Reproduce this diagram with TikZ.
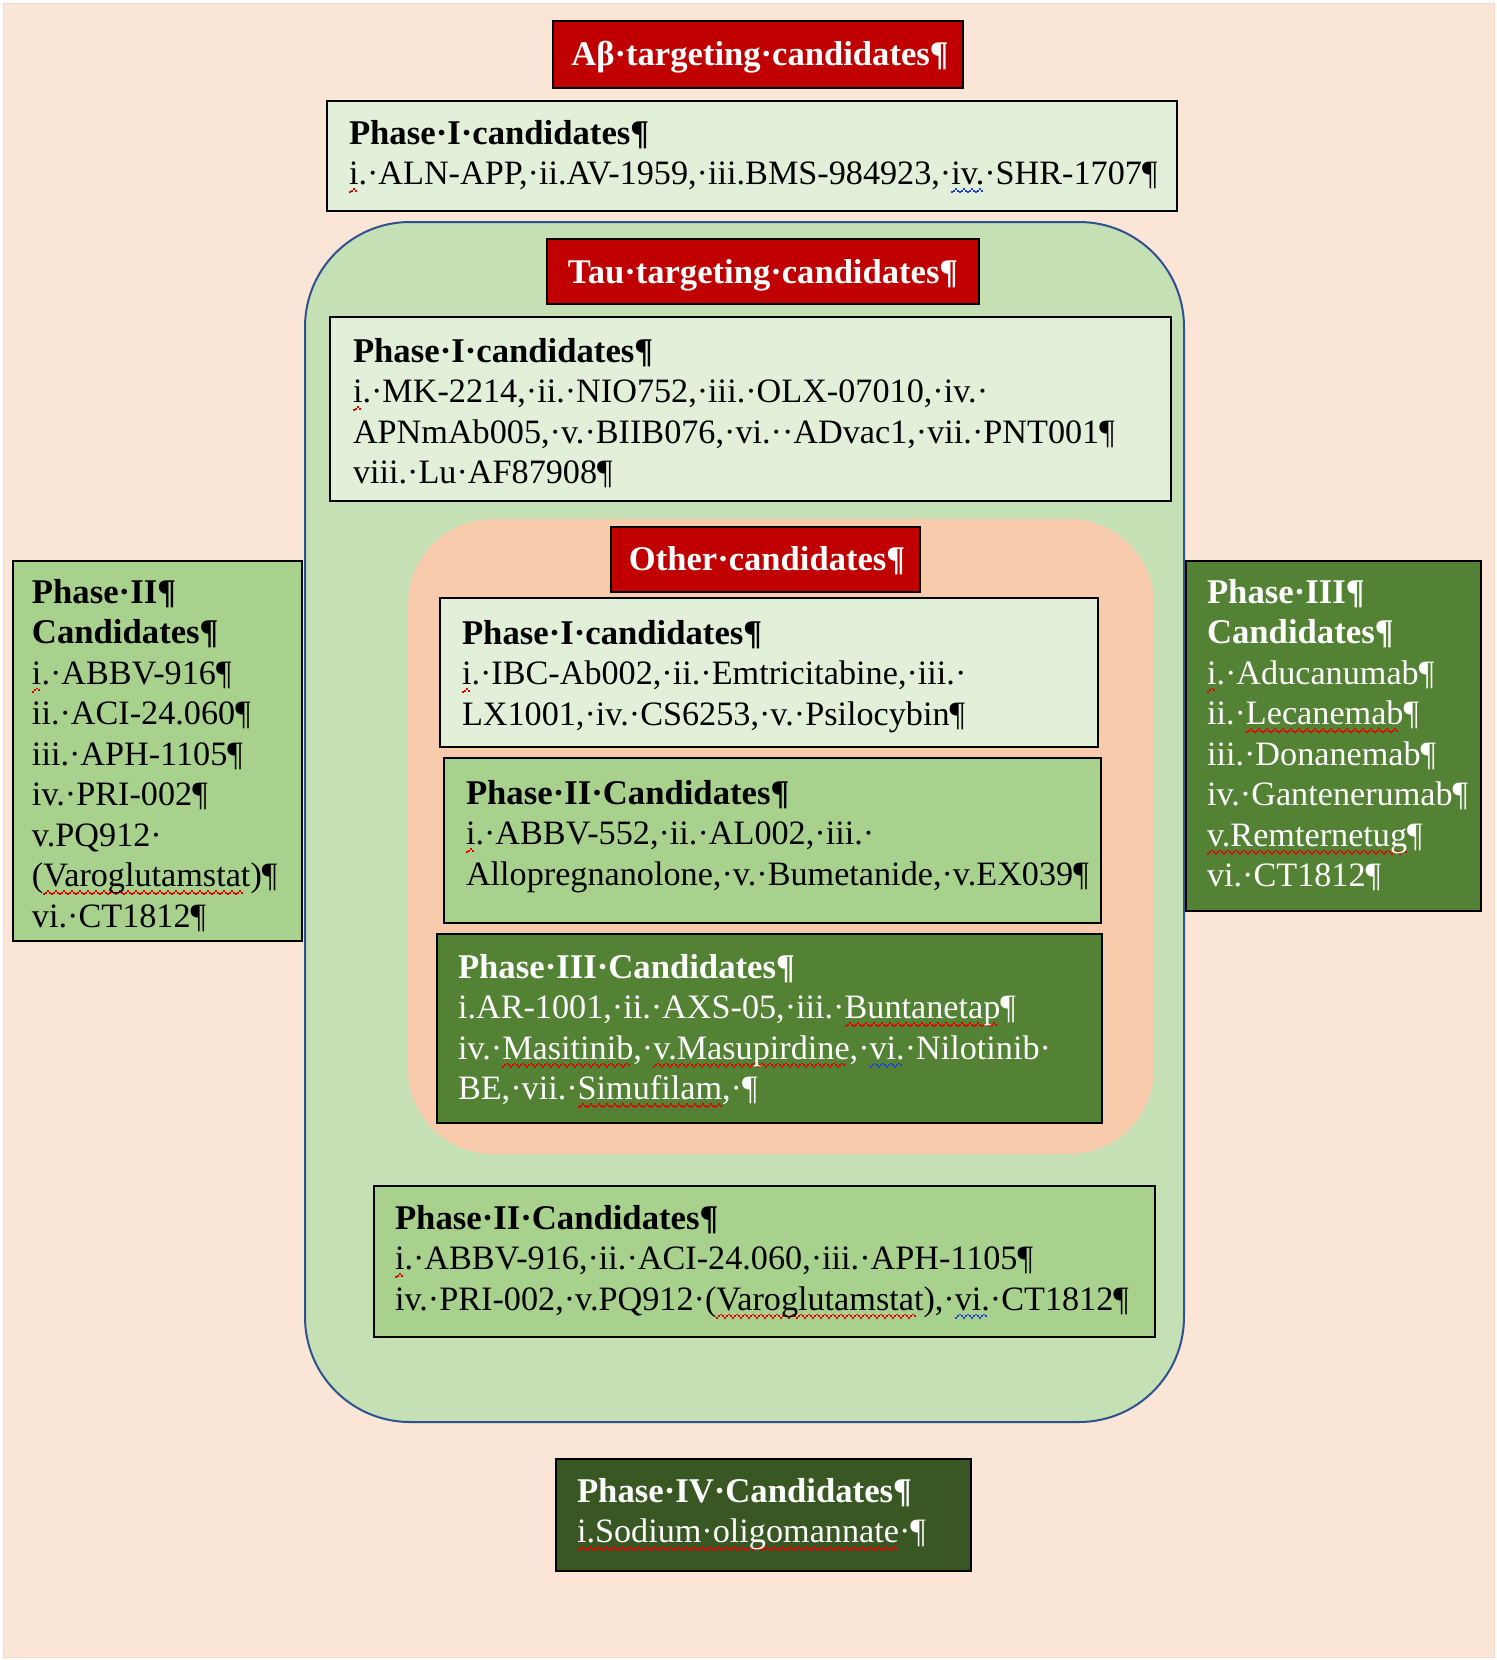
\documentclass[tikz,border=0pt]{standalone}
\usepackage{fontspec}
\setmainfont{Liberation Serif}
\definecolor{bgpeach}{HTML}{FBE5D6}
\definecolor{titlered}{HTML}{C00000}
\definecolor{palegreen}{HTML}{E2EFD9}
\definecolor{taugreen}{HTML}{C5E0B4}
\definecolor{innerpeach}{HTML}{F8CBAD}
\definecolor{midgreen}{HTML}{A9D18E}
\definecolor{darkgreen}{HTML}{548235}
\definecolor{darkestgreen}{HTML}{385723}
\definecolor{navy}{HTML}{2F528F}
\definecolor{sqred}{HTML}{E80000}
\definecolor{sqblue}{HTML}{1F3FE0}
\definecolor{edgegray}{HTML}{F3D9C8}
\newcommand\wavebox[1]{\hbox{\textcolor{#1}{\rule[-4.3pt]{1pt}{0.95pt}\rule[-3.5pt]{1pt}{0.95pt}\rule[-2.7pt]{1pt}{0.95pt}\rule[-3.5pt]{1pt}{0.95pt}}}}
\newcommand\sqline[2]{\setbox0\hbox{#2}\rlap{\hbox to \wd0{\leaders\wavebox{#1}\hfill}}\box0}
\newcommand\redsq[1]{\sqline{sqred}{#1}}
\newcommand\bluesq[1]{\sqline{sqblue}{#1}}
\newcommand\tl[1]{\vtop{#1}}
\newcommand\hd[1]{\hbox{\fontsize{17.35}{20.25}\selectfont\bfseries #1}}
\newcommand\bx[6]{\node[#2, minimum width={(#5-#3)*0.5pt}, minimum height={(#6-#4)*0.5pt}] (#1) at ({(#3+#5)/2},{(#4+#6)/2}) {};}
\tikzset{
  boxbase/.style={draw=black, line width=1.1pt, inner sep=0pt, outer sep=0pt},
  redbox/.style={boxbase, fill=titlered},
  paleb/.style={boxbase, fill=palegreen},
  midb/.style={boxbase, fill=midgreen},
  darkb/.style={boxbase, fill=darkgreen},
  darkestb/.style={boxbase, fill=darkestgreen},
  txt/.style={anchor=base west, inner sep=0pt, outer sep=0pt, font=\fontsize{17.1}{20.25}\selectfont, text=black},
  wtxt/.style={txt, text=white},
  ttl/.style={anchor=base, inner sep=0pt, font=\fontsize{17.3}{20.25}\selectfont\bfseries, text=white},
}
\begin{document}
\begin{tikzpicture}[x=0.5pt, y=-0.5pt]
\useasboundingbox (0,0) rectangle (1497,1660);
\fill[white] (0,0) rectangle (1497,1660);
\fill[bgpeach] (3,3) rectangle (1494,1657);
\draw[edgegray, line width=0.5pt] (3,3) rectangle (1494,1657);

% Abeta
\bx{abt}{redbox}{553}{21}{963}{88}
\node[ttl] (abtt) at (760,65) {Aβ·targeting·candidates¶};
\bx{abp}{paleb}{327}{101}{1177}{211}
\node[txt] (abpt) at (349,144) {\tl{\hd{Phase·I·candidates¶}\hbox{\redsq{i}.·ALN-APP,·ii.AV-1959,·iii.BMS-984923,·\bluesq{iv.}·SHR-1707¶}}};

% Tau rounded
\path[fill=taugreen, draw=navy, line width=1pt, rounded corners=52.5pt] (305,222) rectangle (1184,1422);
\node[inner sep=0pt] (taureg) at (744.5,822) {};
\bx{taut}{redbox}{547}{239}{979}{304}
\node[ttl] (tautt) at (763,283) {Tau·targeting·candidates¶};
\bx{taup}{paleb}{330}{317}{1171}{501}
\node[txt] (taupt) at (353,362) {\tl{\hd{Phase·I·candidates¶}\hbox{\redsq{i}.·MK-2214,·ii.·NIO752,·iii.·OLX-07010,·iv.·}\hbox{APNmAb005,·v.·BIIB076,·vi.··ADvac1,·vii.·PNT001¶}\hbox{viii.·Lu·AF87908¶}}};

% Other rounded
\path[fill=innerpeach, rounded corners=42.5pt] (408,519) rectangle (1154,1154);
\node[inner sep=0pt] (othreg) at (781,836.5) {};
\bx{otht}{redbox}{611}{527}{920}{592}
\node[ttl] (othtt) at (767,570) {Other·candidates¶};
\bx{othp1}{paleb}{440}{598}{1098}{747}
\node[txt] (othp1t) at (462,644) {\tl{\hd{Phase·I·candidates¶}\hbox{\redsq{i}.·IBC-Ab002,·ii.·Emtricitabine,·iii.·}\hbox{LX1001,·iv.·CS6253,·v.·Psilocybin¶}}};
\bx{othp2}{midb}{444}{758}{1101}{923}
\node[txt] (othp2t) at (466,804) {\tl{\hd{Phase·II·Candidates¶}\hbox{\redsq{i}.·ABBV-552,·ii.·AL002,·iii.·}\hbox{Allopregnanolone,·v.·Bumetanide,·v.EX039¶}}};
\bx{othp3}{darkb}{437}{934}{1102}{1123}
\node[wtxt] (othp3t) at (458,978) {\tl{\hd{Phase·III·Candidates¶}\hbox{i.AR-1001,·ii.·AXS-05,·iii.·\redsq{Buntanetap}¶}\hbox{iv.·\redsq{Masitinib},·\redsq{v.Masupirdine},·\bluesq{vi.}·Nilotinib·}\hbox{BE,·vii.·\redsq{Simufilam},·¶}}};

% Tau phase II
\bx{taup2}{midb}{374}{1186}{1155}{1337}
\node[txt] (taup2t) at (395,1229) {\tl{\hd{Phase·II·Candidates¶}\hbox{\redsq{i}.·ABBV-916,·ii.·ACI-24.060,·iii.·APH-1105¶}\hbox{iv.·PRI-002,·v.PQ912·(\redsq{Varoglutamstat}),·\bluesq{vi.}·CT1812¶}}};

% Left phase II
\bx{lp2}{midb}{13}{561}{302}{941}
\node[txt] (lp2t) at (32,603) {\tl{\hd{Phase·II¶}\hd{Candidates¶}\hbox{\redsq{i}.·ABBV-916¶}\hbox{ii.·ACI-24.060¶}\hbox{iii.·APH-1105¶}\hbox{iv.·PRI-002¶}\hbox{v.PQ912·}\hbox{(\redsq{Varoglutamstat})¶}\hbox{vi.·CT1812¶}}};

% Right phase III
\bx{rp3}{darkb}{1186}{561}{1481}{911}
\node[wtxt] (rp3t) at (1207,603) {\tl{\hd{Phase·III¶}\hd{Candidates¶}\hbox{\redsq{i}.·Aducanumab¶}\hbox{ii.·\redsq{Lecanemab}¶}\hbox{iii.·Donanemab¶}\hbox{iv.·Gantenerumab¶}\hbox{\redsq{v.Remternetug}¶}\hbox{vi.·CT1812¶}}};

% Phase IV
\bx{p4}{darkestb}{556}{1459}{971}{1571}
\node[wtxt] (p4t) at (577,1502) {\tl{\hd{Phase·IV·Candidates¶}\hbox{\redsq{i.Sodium·oligomannate}·¶}}};
\end{tikzpicture}
\end{document}
